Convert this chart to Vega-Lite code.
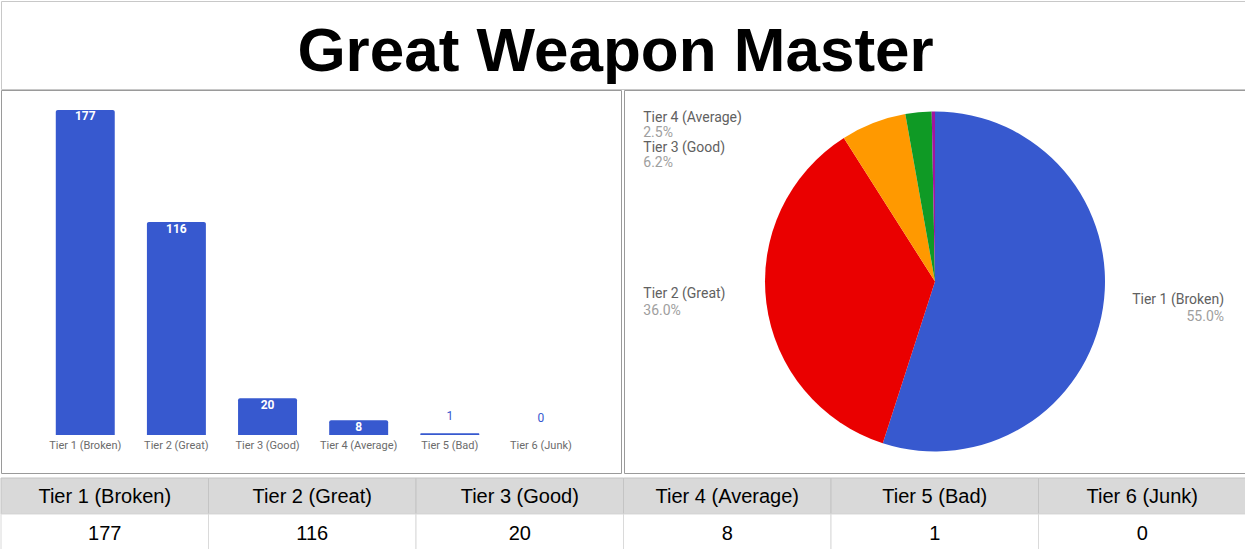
{
  "$schema": "https://vega.github.io/schema/vega-lite/v6.json",
  "padding": 0,
  "background": "white",
  "spacing": -3,
  "config": {"view": {"stroke": null}, "font": "Roboto"},
  "datasets": {
    "tiers": [
      {"tier": "Tier 1 (Broken)", "count": 177, "share": 0.550},
      {"tier": "Tier 2 (Great)", "count": 116, "share": 0.360},
      {"tier": "Tier 3 (Good)", "count": 20, "share": 0.062},
      {"tier": "Tier 4 (Average)", "count": 8, "share": 0.025},
      {"tier": "Tier 5 (Bad)", "count": 1, "share": 0.003},
      {"tier": "Tier 6 (Junk)", "count": 0, "share": 0.0}
    ],
    "heading": [{"title": "Great Weapon Master"}]
  },
  "vconcat": [
    {
      "width": 1245,
      "height": 88,
      "data": {"name": "heading"},
      "view": {"stroke": "#c8c8c8"},
      "mark": {"type": "text", "clip": true, "font": "Liberation Sans, Arial, sans-serif", "fontWeight": "bold", "fontSize": 62, "baseline": "alphabetic", "dy": 26, "dx": -8, "color": "#000000"},
      "encoding": {"text": {"field": "title"}}
    },
    {
      "spacing": 3,
      "vconcat": [
        {
          "spacing": 1,
          "hconcat": [
            {
              "width": 620,
              "height": 383,
              "data": {"name": "tiers"},
              "view": {"stroke": "#9a9a9a"},
              "encoding": {
                "x": {"field": "tier", "type": "nominal", "sort": null,
                  "scale": {"paddingInner": 0.353, "paddingOuter": 0.578, "align": 0.52},
                  "axis": {"orient": "bottom", "offset": -38, "title": null, "domain": false, "ticks": false, "grid": false, "labelAngle": 0, "labelPadding": 4, "labelFont": "Roboto", "labelFontSize": 11, "labelColor": "#6b6b6b", "labelLimit": 0}}
              },
              "layer": [
                {
                  "mark": {"type": "bar", "color": "#3759cf", "cornerRadiusTopLeft": 2, "cornerRadiusTopRight": 2},
                  "encoding": {
                    "y": {"field": "count", "type": "quantitative", "scale": {"domain": [-20.69, 187.89], "nice": false, "zero": false}, "axis": null},
                    "y2": {"datum": 0}
                  }
                },
                {
                  "transform": [{"filter": "datum.count >= 5"}],
                  "mark": {"type": "text", "color": "white", "fontWeight": "bold", "fontSize": 12, "baseline": "middle", "dy": 6.5},
                  "encoding": {"y": {"field": "count", "type": "quantitative"}, "text": {"field": "count", "type": "quantitative"}}
                },
                {
                  "transform": [{"filter": "datum.count < 5"}],
                  "mark": {"type": "text", "color": "#3759cf", "fontSize": 12, "baseline": "middle", "dy": -17.5},
                  "encoding": {"y": {"field": "count", "type": "quantitative"}, "text": {"field": "count", "type": "quantitative"}}
                }
              ]
            },
            {
              "width": 622,
              "height": 383,
              "data": {"name": "tiers"},
              "view": {"stroke": "#9a9a9a"},
              "encoding": {
                "theta": {"field": "count", "type": "quantitative", "stack": true},
                "order": {"field": "tier", "type": "ordinal"}
              },
              "layer": [
                {
                  "mark": {"type": "arc", "outerRadius": 170},
                  "encoding": {
                    "color": {"field": "tier", "type": "nominal", "legend": null,
                      "scale": {"domain": ["Tier 1 (Broken)", "Tier 2 (Great)", "Tier 3 (Good)", "Tier 4 (Average)", "Tier 5 (Bad)", "Tier 6 (Junk)"],
                                "range": ["#3759cf", "#ea0000", "#ff9900", "#0f9a25", "#a0169f", "#0099c6"]}}
                  }
                },
                {
                  "mark": {"type": "text", "clip": true, "radius": 162, "align": "right", "baseline": "alphabetic", "dx": 129, "dy": -3, "fontSize": 14, "color": "#616161"},
                  "encoding": {"text": {"condition": {"test": "datum.tier === 'Tier 1 (Broken)'", "field": "tier", "type": "nominal"}, "value": ""}}
                },
                {
                  "mark": {"type": "text", "clip": true, "radius": 162, "align": "right", "baseline": "alphabetic", "dx": 129, "dy": 14, "fontSize": 14, "color": "#9e9e9e"},
                  "encoding": {"text": {"condition": {"test": "datum.tier === 'Tier 1 (Broken)'", "field": "share", "type": "quantitative", "format": ".1%"}, "value": ""}}
                },
                {
                  "mark": {"type": "text", "clip": true, "radius": 162, "align": "left", "baseline": "alphabetic", "dx": -131, "dy": -4, "fontSize": 14, "color": "#616161"},
                  "encoding": {"text": {"condition": {"test": "datum.tier === 'Tier 2 (Great)'", "field": "tier", "type": "nominal"}, "value": ""}}
                },
                {
                  "mark": {"type": "text", "clip": true, "radius": 162, "align": "left", "baseline": "alphabetic", "dx": -131, "dy": 13, "fontSize": 14, "color": "#9e9e9e"},
                  "encoding": {"text": {"condition": {"test": "datum.tier === 'Tier 2 (Great)'", "field": "share", "type": "quantitative", "format": ".1%"}, "value": ""}}
                },
                {
                  "mark": {"type": "text", "clip": true, "radius": 162, "align": "left", "baseline": "alphabetic", "dx": -233, "dy": 21.5, "fontSize": 14, "color": "#616161"},
                  "encoding": {"text": {"condition": {"test": "datum.tier === 'Tier 3 (Good)'", "field": "tier", "type": "nominal"}, "value": ""}}
                },
                {
                  "mark": {"type": "text", "clip": true, "radius": 162, "align": "left", "baseline": "alphabetic", "dx": -233, "dy": 36.5, "fontSize": 14, "color": "#9e9e9e"},
                  "encoding": {"text": {"condition": {"test": "datum.tier === 'Tier 3 (Good)'", "field": "share", "type": "quantitative", "format": ".1%"}, "value": ""}}
                },
                {
                  "mark": {"type": "text", "clip": true, "radius": 162, "align": "left", "baseline": "alphabetic", "dx": -276, "dy": 1.5, "fontSize": 14, "color": "#616161"},
                  "encoding": {"text": {"condition": {"test": "datum.tier === 'Tier 4 (Average)'", "field": "tier", "type": "nominal"}, "value": ""}}
                },
                {
                  "mark": {"type": "text", "clip": true, "radius": 162, "align": "left", "baseline": "alphabetic", "dx": -276, "dy": 17, "fontSize": 14, "color": "#9e9e9e"},
                  "encoding": {"text": {"condition": {"test": "datum.tier === 'Tier 4 (Average)'", "field": "share", "type": "quantitative", "format": ".1%"}, "value": ""}}
                }
              ]
            }
          ]
        },
        {
          "width": 1245,
          "height": 72,
          "data": {"name": "tiers"},
          "encoding": {
            "x": {"field": "tier", "type": "nominal", "sort": null, "scale": {"paddingInner": 0, "paddingOuter": 0}, "axis": null}
          },
          "layer": [
            {
              "mark": {"type": "rect", "fill": "#d9d9d9", "stroke": "#c4c4c4", "strokeWidth": 1},
              "encoding": {"y": {"datum": "header", "type": "nominal", "scale": {"domain": ["header", "value"], "paddingInner": 0, "paddingOuter": 0}, "axis": null}}
            },
            {
              "mark": {"type": "rect", "fill": "#ffffff", "stroke": "#dadada", "strokeWidth": 1},
              "encoding": {"y": {"datum": "value", "type": "nominal"}}
            },
            {
              "mark": {"type": "text", "clip": true, "font": "Liberation Sans, Arial, sans-serif", "fontSize": 20, "color": "#000000", "baseline": "middle", "dy": 1},
              "encoding": {"y": {"datum": "header", "type": "nominal"}, "text": {"field": "tier", "type": "nominal"}}
            },
            {
              "mark": {"type": "text", "clip": true, "font": "Liberation Sans, Arial, sans-serif", "fontSize": 20, "color": "#000000", "baseline": "middle", "dy": 2},
              "encoding": {"y": {"datum": "value", "type": "nominal"}, "text": {"field": "count", "type": "quantitative"}}
            }
          ]
        }
      ]
    }
  ]
}
